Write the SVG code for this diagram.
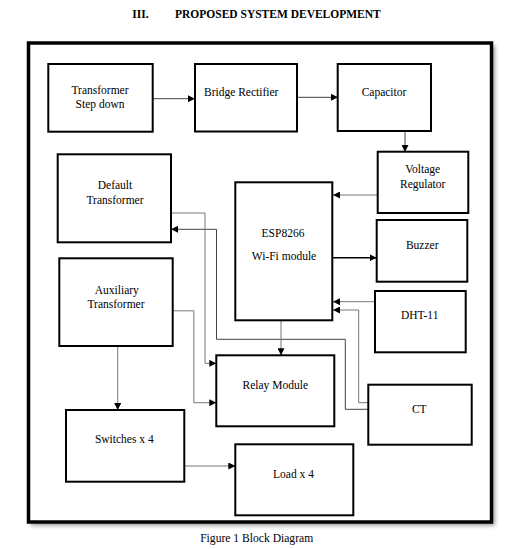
<svg xmlns="http://www.w3.org/2000/svg" width="510" height="549" viewBox="0 0 510 549">
<style>
text{font-family:"Liberation Serif","Times New Roman",serif;font-size:11.5px;fill:#000;text-anchor:middle}
.box{fill:#fff;stroke:#000;stroke-width:2}
.ln{fill:none;stroke:#777;stroke-width:1}
.dk{fill:none;stroke:#444;stroke-width:1}
.bk{fill:none;stroke:#000;stroke-width:1.6}
</style>
<defs>
<marker id="ah" viewBox="0 0 10 10" refX="10" refY="5" markerWidth="7" markerHeight="7" markerUnits="userSpaceOnUse" orient="auto">
<path d="M0,0 L10,5 L0,10 z" fill="#000"/>
</marker>
<filter id="sh" x="-5%" y="-5%" width="115%" height="115%">
<feGaussianBlur stdDeviation="2"/>
</filter>
</defs>
<rect width="510" height="549" fill="#fff"/>
<text x="140.5" y="18" font-weight="bold" style="font-weight:bold">III.</text>
<text x="175" y="18" style="font-weight:bold;text-anchor:start">PROPOSED SYSTEM DEVELOPMENT</text>
<rect x="31" y="45.5" width="464" height="480" fill="#999" filter="url(#sh)"/>
<rect x="28.5" y="43" width="463" height="479" fill="#fff" stroke="#000" stroke-width="3.5"/>
<g id="connectors">
<path class="dk" d="M153,98.7 H195" marker-end="url(#ah)"/>
<path class="dk" d="M297,97.3 H338" marker-end="url(#ah)"/>
<path class="dk" d="M405,131.5 V152" marker-end="url(#ah)"/>
<path class="ln" d="M377.5,195 H333" marker-end="url(#ah)"/>
<path class="bk" d="M333,257.7 H376.5" marker-end="url(#ah)"/>
<path class="ln" d="M375,301.7 H333" marker-end="url(#ah)"/>
<path class="ln" d="M368.3,402.7 H358.7 V310 H333" marker-end="url(#ah)"/>
<path class="dk" d="M368.3,409.3 H345.3 V339.3 H216.5 V229.3 H171" marker-end="url(#ah)"/>
<path class="ln" d="M171,213 H205 V363.3 H216.3" marker-end="url(#ah)"/>
<path class="ln" d="M172.7,310.8 H193.8 V402.7 H216.3" marker-end="url(#ah)"/>
<path class="ln" d="M281,320.3 V355.3" marker-end="url(#ah)"/>
<path class="ln" d="M117.7,346 V410" marker-end="url(#ah)"/>
<path class="ln" d="M184.3,466 H235.3" marker-end="url(#ah)"/>
</g>
<g id="transformer-step-down"><rect class="box" x="48.3" y="64" width="104.4" height="67.7"/><text x="100" y="94">Transformer</text><text x="100" y="108.3">Step down</text></g>
<g id="bridge-rectifier"><rect class="box" x="195" y="64" width="102" height="67.5"/><text x="241.2" y="96">Bridge Rectifier</text></g>
<g id="capacitor"><rect class="box" x="337.7" y="64" width="93.3" height="67"/><text x="384" y="96">Capacitor</text></g>
<g id="default-transformer"><rect class="box" x="57.7" y="154.3" width="113.3" height="88"/><text x="115" y="188.6">Default</text><text x="115" y="204">Transformer</text></g>
<g id="voltage-regulator"><rect class="box" x="377.7" y="151.7" width="90.6" height="61.3"/><text x="422.7" y="172.6">Voltage</text><text x="422.7" y="188">Regulator</text></g>
<g id="esp8266"><rect class="box" x="235.3" y="182.3" width="97" height="138"/><text x="283" y="237">ESP8266</text><text x="284" y="260">Wi-Fi module</text></g>
<g id="buzzer"><rect class="box" x="376.7" y="220" width="90.6" height="61.7"/><text x="422.2" y="249">Buzzer</text></g>
<g id="dht11"><rect class="box" x="375" y="291" width="90.7" height="61.3"/><text x="419.7" y="319">DHT-11</text></g>
<g id="auxiliary-transformer"><rect class="box" x="59.3" y="258.3" width="113.4" height="87.7"/><text x="116.8" y="294">Auxiliary</text><text x="116" y="307.5">Transformer</text></g>
<g id="relay-module"><rect class="box" x="216.3" y="355.3" width="118" height="71"/><text x="275.3" y="389">Relay Module</text></g>
<g id="ct"><rect class="box" x="368.3" y="384.7" width="103.4" height="60"/><text x="419.3" y="412.6">CT</text></g>
<g id="switches"><rect class="box" x="66" y="410" width="118.3" height="71.7"/><text x="124.3" y="443">Switches x 4</text></g>
<g id="load"><rect class="box" x="235.3" y="444.3" width="118" height="71"/><text x="293.5" y="478">Load x 4</text></g>
<text x="256.7" y="542" style="font-size:11.6px">Figure 1 Block Diagram</text>
</svg>
